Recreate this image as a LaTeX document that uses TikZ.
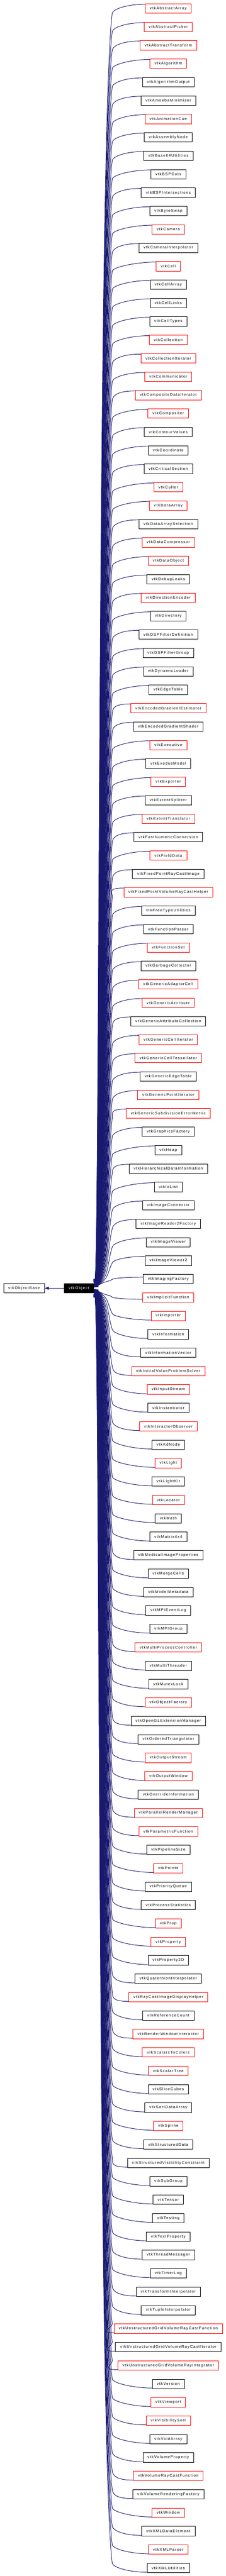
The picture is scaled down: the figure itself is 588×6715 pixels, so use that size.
\documentclass[tikz,border=0pt]{standalone}
\usepackage{fontspec}
\newfontfamily\dotfont[LetterSpace=15]{Liberation Sans}
\usetikzlibrary{arrows.meta}
\begin{document}
\begin{tikzpicture}[x=1pt,y=1pt]
\definecolor{linkblue}{RGB}{25,25,112}
\tikzset{
  cls/.style={draw=black, line width=1pt, minimum height=24.5pt, inner xsep=12pt, inner ysep=0pt, font=\dotfont\fontsize{10}{12}\selectfont},
  conn/.style={color=linkblue, line width=1.3pt, arrows={-Triangle[length=11pt,width=8pt]}}}
\useasboundingbox (0,0) rectangle (588,-6715);
\node[cls] (vob) at (62.5,-3358) {vtkObjectBase};
\node[cls, fill=black, text=white] (vo) at (205.3,-3358) {vtkObject};
\draw[conn] (vo.west) -- (vob.east);
\foreach \nm/\col [count=\i] in {
vtkAbstractArray/red, vtkAbstractPicker/red, vtkAbstractTransform/red, vtkAlgorithm/red,
vtkAlgorithmOutput/black, vtkAmoebaMinimizer/black, vtkAnimationCue/red, vtkAssemblyNode/black,
vtkBase64Utilities/black, vtkBSPCuts/black, vtkBSPIntersections/black, vtkByteSwap/black,
vtkCamera/red, vtkCameraInterpolator/black, vtkCell/red, vtkCellArray/black,
vtkCellLinks/black, vtkCellTypes/black, vtkCollection/red, vtkCollectionIterator/red,
vtkCommunicator/red, vtkCompositeDataIterator/red, vtkCompositer/red, vtkContourValues/black,
vtkCoordinate/black, vtkCriticalSection/black, vtkCuller/red, vtkDataArray/red,
vtkDataArraySelection/black, vtkDataCompressor/red, vtkDataObject/red, vtkDebugLeaks/black,
vtkDirectionEncoder/red, vtkDirectory/black, vtkDSPFilterDefinition/black, vtkDSPFilterGroup/black,
vtkDynamicLoader/black, vtkEdgeTable/black, vtkEncodedGradientEstimator/red, vtkEncodedGradientShader/black,
vtkExecutive/red, vtkExodusModel/black, vtkExporter/red, vtkExtentSplitter/black,
vtkExtentTranslator/red, vtkFastNumericConversion/black, vtkFieldData/red, vtkFixedPointRayCastImage/black,
vtkFixedPointVolumeRayCastHelper/red, vtkFreeTypeUtilities/black, vtkFunctionParser/black, vtkFunctionSet/red,
vtkGarbageCollector/black, vtkGenericAdaptorCell/red, vtkGenericAttribute/red, vtkGenericAttributeCollection/black,
vtkGenericCellIterator/red, vtkGenericCellTessellator/red, vtkGenericEdgeTable/black, vtkGenericPointIterator/red,
vtkGenericSubdivisionErrorMetric/red, vtkGraphicsFactory/black, vtkHeap/black, vtkHierarchicalDataInformation/black,
vtkIdList/black, vtkImageConnector/black, vtkImageReader2Factory/black, vtkImageViewer/black,
vtkImageViewer2/black, vtkImagingFactory/black, vtkImplicitFunction/red, vtkImporter/red,
vtkInformation/black, vtkInformationVector/black, vtkInitialValueProblemSolver/red, vtkInputStream/red,
vtkInstantiator/black, vtkInteractorObserver/red, vtkKdNode/black, vtkLight/red,
vtkLightKit/black, vtkLocator/red, vtkMath/black, vtkMatrix4x4/black,
vtkMedicalImageProperties/black, vtkMergeCells/black, vtkModelMetadata/black, vtkMPIEventLog/black,
vtkMPIGroup/black, vtkMultiProcessController/red, vtkMultiThreader/black, vtkMutexLock/black,
vtkObjectFactory/red, vtkOpenGLExtensionManager/black, vtkOrderedTriangulator/black, vtkOutputStream/red,
vtkOutputWindow/red, vtkOverrideInformation/black, vtkParallelRenderManager/red, vtkParametricFunction/red,
vtkPipelineSize/black, vtkPoints/red, vtkPriorityQueue/black, vtkProcessStatistics/black,
vtkProp/red, vtkProperty/red, vtkProperty2D/black, vtkQuaternionInterpolator/black,
vtkRayCastImageDisplayHelper/red, vtkReferenceCount/black, vtkRenderWindowInteractor/red, vtkScalarsToColors/red,
vtkScalarTree/red, vtkSliceCubes/black, vtkSortDataArray/black, vtkSpline/red,
vtkStructuredData/black, vtkStructuredVisibilityConstraint/black, vtkSubGroup/black, vtkTensor/black,
vtkTesting/black, vtkTextProperty/black, vtkThreadMessager/black, vtkTimerLog/black,
vtkTransformInterpolator/black, vtkTupleInterpolator/black, vtkUnstructuredGridVolumeRayCastFunction/red, vtkUnstructuredGridVolumeRayCastIterator/black,
vtkUnstructuredGridVolumeRayIntegrator/red, vtkVersion/black, vtkViewport/red, vtkVisibilitySort/red,
vtkVoidArray/black, vtkVolumeProperty/black, vtkVolumeRayCastFunction/red, vtkVolumeRenderingFactory/black,
vtkWindow/red, vtkXMLDataElement/black, vtkXMLParser/red, vtkXMLUtilities/black}{
  \node[cls, draw=\col] (n\i) at (438,{-(22+48*(\i-1))}) {\nm};
}
% connectors of the classes above vtkObject
\foreach \i in {1,...,70}{
  \pgfmathsetmacro{\eAd}{3358-(22+48*(\i-1))}
  \pgfmathsetmacro{\eM}{min(11,\eAd/5)}
  \pgfmathsetmacro{\eF}{min(1,\eAd/100)}
  \pgfmathsetmacro{\eXb}{255+25*(1-min(1,\eAd/3340))}
  \pgfmathsetmacro{\eLa}{min(300,\eAd/3)}
  \pgfmathsetmacro{\eLb}{20+40*min(1,\eAd/1500)}
  \pgfmathsetmacro{\eD}{2+10*min(1,\eAd/1500)}
  \pgfmathsetmacro{\eBy}{-(22+48*(\i-1))+\eM-24*\eF}
  \pgfmathsetmacro{\eCa}{12*\eF}
  \pgfmathsetmacro{\eXa}{\eXb-292}
  \pgfmathsetmacro{\eXc}{\eXb-240}
  \draw[conn] ([yshift=\eM pt]n\i.west) .. controls +(-45,0) and +(2,\eCa) .. (292,\eBy)
     .. controls +(\eXa,-\eLa) and +(\eXc,\eLb) .. ([yshift=\eD pt]vo.east);
}
% connectors of the classes below vtkObject
\foreach \i in {71,...,140}{
  \pgfmathsetmacro{\eAd}{(22+48*(\i-1))-3358}
  \pgfmathsetmacro{\eM}{min(11,\eAd/5)}
  \pgfmathsetmacro{\eF}{min(1,\eAd/100)}
  \pgfmathsetmacro{\eXb}{255+25*(1-min(1,\eAd/3340))}
  \pgfmathsetmacro{\eLa}{min(300,\eAd/3)}
  \pgfmathsetmacro{\eLb}{20+40*min(1,\eAd/1500)}
  \pgfmathsetmacro{\eD}{2+10*min(1,\eAd/1500)}
  \pgfmathsetmacro{\eBy}{-(22+48*(\i-1))-\eM+24*\eF}
  \pgfmathsetmacro{\eCa}{12*\eF}
  \pgfmathsetmacro{\eXa}{\eXb-292}
  \pgfmathsetmacro{\eXc}{\eXb-240}
  \draw[conn] ([yshift=-\eM pt]n\i.west) .. controls +(-45,0) and +(2,-\eCa) .. (292,\eBy)
     .. controls +(\eXa,\eLa) and +(\eXc,-\eLb) .. ([yshift=-\eD pt]vo.east);
}
\end{tikzpicture}
\end{document}
